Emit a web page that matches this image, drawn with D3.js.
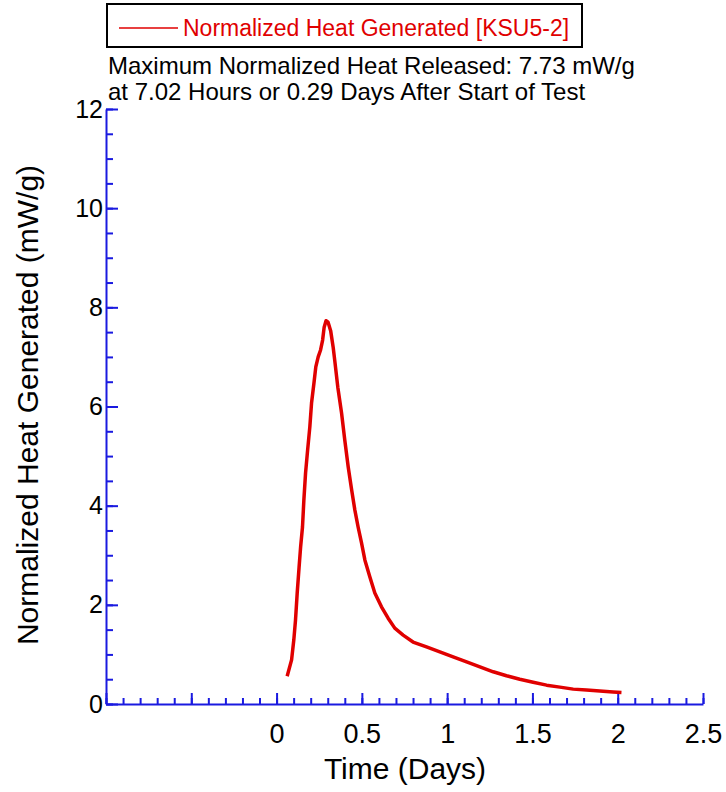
<!DOCTYPE html>
<html>

<head>
  <meta charset="utf-8">
  <title>heat-generated</title>
  <style>
    * {
      padding: 0;
      margin: 0;
    }

    body {
      background: #fff;
      font-family: "Liberation Sans", Arial, sans-serif;
    }

    .axis path,
    .axis line {
      stroke: #1a1ae0;
      stroke-width: 2;
    }

    .axis text {
      fill: #000;
      font-family: "Liberation Sans", Arial, sans-serif;
    }
  </style>
</head>

<body>
  <svg id="svg"></svg>
  <script src="https://cdnjs.cloudflare.com/ajax/libs/d3/7.8.5/d3.min.js"></script>
  <script>
    // time in days, normalized heat in mW/g
    const days = [0.062, 0.088, 0.101, 0.111, 0.121, 0.132, 0.141, 0.152, 0.160, 0.170,
      0.182, 0.195, 0.205, 0.219, 0.230, 0.244, 0.258, 0.270, 0.279, 0.290,
      0.302, 0.317, 0.332, 0.342, 0.359, 0.381, 0.400, 0.420, 0.440, 0.459,
      0.478, 0.498, 0.518, 0.547, 0.576, 0.615, 0.654, 0.693, 0.742, 0.800,
      0.879, 0.957, 1.035, 1.114, 1.192, 1.270, 1.348, 1.426, 1.504, 1.583,
      1.661, 1.739, 1.817, 1.895, 1.973, 2.022];
    const heat = [0.56, 0.89, 1.29, 1.69, 2.24, 2.76, 3.17, 3.57, 4.11, 4.66,
      5.12, 5.59, 6.07, 6.47, 6.80, 7.00, 7.14, 7.34, 7.60, 7.73,
      7.70, 7.53, 7.19, 6.90, 6.39, 5.87, 5.32, 4.78, 4.32, 3.91,
      3.57, 3.25, 2.90, 2.56, 2.24, 1.96, 1.73, 1.53, 1.39, 1.25,
      1.15, 1.05, 0.95, 0.85, 0.75, 0.65, 0.57, 0.50, 0.44, 0.38,
      0.34, 0.30, 0.28, 0.26, 0.24, 0.23];

    const xMajorTicks = [-1, -0.5, 0, 0.5, 1, 1.5, 2, 2.5];
    const xMinorTicks = d3.range(-10, 26).map(i => i / 10);
    const yMajorTicks = [0, 2, 4, 6, 8, 10, 12];
    const yMinorTicks = d3.range(0, 25).map(i => i / 2);

    const seriesName = 'Normalized Heat Generated [KSU5-2]';
    const noteLines = ['Maximum Normalized Heat Released: 7.73 mW/g',
      'at 7.02 Hours or 0.29 Days After Start of Test'];

    const dimension = {
      width: 726,
      height: 792,
      left: 106,
      right: 703,
      top: 109,
      bottom: 704
    }

    const data = days.map((d, i) => ({ day: d, heat: heat[i] }));

    const svg = d3.select('#svg').attr('width', dimension.width).attr('height', dimension.height);

    const xScale = d3.scaleLinear().domain([-1, 2.5]).range([dimension.left, dimension.right]);
    const yScale = d3.scaleLinear().domain([0, 12]).range([dimension.bottom, dimension.top]);

    // minor ticks first, labels only on the major axis
    svg.append('g')
      .attr('class', 'axis')
      .attr('transform', `translate(0, ${dimension.bottom})`)
      .call(d3.axisBottom(xScale).tickValues(xMinorTicks).tickSize(-6).tickFormat(''))
      .select('.domain').remove();

    svg.append('g')
      .attr('class', 'axis')
      .attr('id', 'x-axis')
      .attr('transform', `translate(0, ${dimension.bottom})`)
      .call(d3.axisBottom(xScale).tickValues(xMajorTicks).tickSizeInner(-11).tickSizeOuter(0)
        .tickPadding(20).tickFormat(d => d < 0 ? '' : d3.format('')(d)))
      .selectAll('text')
      .style('font-size', '27px');

    svg.append('g')
      .attr('class', 'axis')
      .attr('transform', `translate(${dimension.left}, 0)`)
      .call(d3.axisLeft(yScale).tickValues(yMinorTicks).tickSize(-7).tickFormat(''))
      .select('.domain').remove();

    svg.append('g')
      .attr('class', 'axis')
      .attr('id', 'y-axis')
      .attr('transform', `translate(${dimension.left}, 0)`)
      .call(d3.axisLeft(yScale).tickValues(yMajorTicks).tickSizeInner(-12).tickSizeOuter(0).tickPadding(3))
      .selectAll('text')
      .style('font-size', '25px');

    svg.append('text')
      .text('Time (Days)')
      .attr('x', 405)
      .attr('y', 779)
      .attr('text-anchor', 'middle')
      .style('font-size', '30px');

    svg.append('text')
      .text('Normalized Heat Generated (mW/g)')
      .attr('transform', 'translate(38, 405) rotate(-90)')
      .attr('text-anchor', 'middle')
      .style('font-size', '30px');

    const line = d3.line()
      .x(d => xScale(d.day))
      .y(d => yScale(d.heat));

    svg.append('path')
      .datum(data)
      .attr('d', line)
      .attr('fill', 'none')
      .attr('stroke', '#e00000')
      .attr('stroke-width', 3.5)
      .attr('stroke-linejoin', 'round');

    // legend box
    const legend = svg.append('g').attr('id', 'legend');
    legend.append('rect')
      .attr('x', 107)
      .attr('y', 4)
      .attr('width', 475)
      .attr('height', 43)
      .attr('fill', '#fff')
      .attr('stroke', '#000')
      .attr('stroke-width', 2);
    legend.append('line')
      .attr('x1', 119).attr('x2', 178)
      .attr('y1', 28).attr('y2', 28)
      .attr('stroke', '#e00000')
      .attr('stroke-width', 1.5);
    legend.append('text')
      .text(seriesName)
      .attr('x', 183)
      .attr('y', 36)
      .attr('fill', '#e00000')
      .style('font-size', '23px');

    svg.selectAll('.note')
      .data(noteLines)
      .enter()
      .append('text')
      .attr('class', 'note')
      .text(d => d)
      .attr('x', 108)
      .attr('y', (d, i) => 74 + i * 26)
      .style('font-size', '24px');
  </script>
</body>

</html>
